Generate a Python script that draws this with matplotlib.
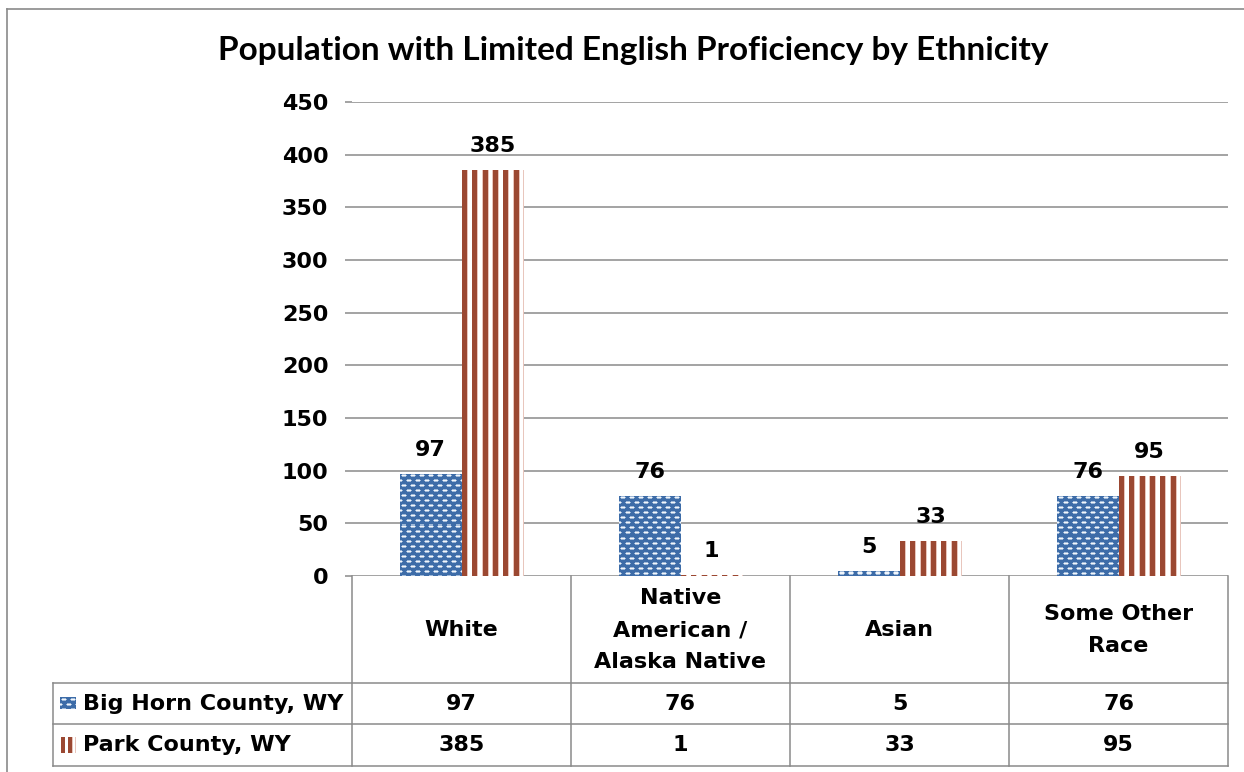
import numpy as np
import matplotlib
matplotlib.use("Agg")
import matplotlib.pyplot as plt
from matplotlib.lines import Line2D
from matplotlib.transforms import blended_transform_factory
from matplotlib.colors import to_rgb

# ---- data ----
title = "Population with Limited English Proficiency by Ethnicity"
categories = ["White", "Native\nAmerican /\nAlaska Native", "Asian", "Some Other\nRace"]
series_names = ["Big Horn County, WY", "Park County, WY"]
big_horn = [97, 76, 5, 76]
park = [385, 1, 33, 95]
y_ticks = [0, 50, 100, 150, 200, 250, 300, 350, 400, 450]

# ---- styling ----
W, H, DPI = 1244, 772, 100
BLUE = to_rgb("#3D6CA8")
DOT_CORE = to_rgb("#F2F6FB")
DOT_EDGE = to_rgb("#9FB9D8")
BROWN = to_rgb("#9B4832")
PINK = to_rgb("#E8C6BD")
WHITE = (1.0, 1.0, 1.0)
GRID = "#8A8A8A"
FS = 16

plt.rcParams["font.family"] = ["DejaVu Sans"]
plt.rcParams["font.weight"] = "bold"

fig = plt.figure(figsize=(W / DPI, H / DPI), dpi=DPI)


def fx(px):
    return px / W


def fy(py):
    return 1 - py / H


def dots(h, w):
    """Blue fill with staggered white dashes."""
    img = np.empty((h, w, 3))
    img[:] = BLUE
    yy, xx = np.mgrid[0:h, 0:w]
    row = yy // 5
    ph = yy % 5
    cc = (xx + 4 * (row % 2)) % 9
    core = ph == 2
    rim = (ph == 1) | (ph == 3)
    img[core & (cc >= 2) & (cc <= 5)] = DOT_CORE
    img[core & ((cc == 1) | (cc == 6))] = DOT_EDGE
    img[rim & (cc >= 2) & (cc <= 5)] = DOT_EDGE
    return img


def stripes(h, w, n=6):
    """Vertical brown stripes on white."""
    img = np.empty((max(h, 1), w, 3))
    f = ((np.arange(w) + 0.5) * n / w) % 1.0
    col = np.empty((w, 3))
    col[:] = WHITE
    col[(f >= 0.48) & (f < 0.58)] = PINK
    col[f >= 0.92] = PINK
    col[f < 0.48] = BROWN
    img[:] = col[None, :, :]
    return img


# ---- chart axes ----
ax = fig.add_axes([fx(352), fy(576), fx(1228) - fx(352), fy(102) - fy(576)])
n = len(categories)
x = np.arange(n)
bw = 62 / 219

bars1 = ax.bar(x - bw / 2, big_horn, bw, color=BLUE, lw=0, zorder=3)
bars2 = ax.bar(x + bw / 2, park, bw, color=WHITE, lw=0, zorder=3)

ax.set_xlim(-0.5, n - 0.5)
ax.set_ylim(0, 450)
fig.canvas.draw()


def texture(bars, maker):
    for b in bars:
        x0, y0 = b.get_x(), b.get_y()
        x1, y1 = x0 + b.get_width(), y0 + b.get_height()
        (p0x, p0y), (p1x, p1y) = ax.transData.transform([(x0, y0), (x1, y1)])
        wpx = max(int(round(p1x - p0x)), 1)
        hpx = max(int(round(p1y - p0y)), 1)
        im = ax.imshow(maker(hpx, wpx), extent=(x0, x1, y0, y1), aspect="auto",
                       interpolation="nearest", zorder=3.5)
        im.set_clip_path(b)


texture(bars1, dots)
texture(bars2, stripes)
ax.set_xlim(-0.5, n - 0.5)
ax.set_ylim(0, 450)

for s in ax.spines.values():
    s.set_visible(False)
ax.set_axisbelow(True)
ax.yaxis.grid(True, color=GRID, lw=1.1)
ax.set_yticks(y_ticks)
ax.set_yticklabels([str(t) for t in y_ticks], fontsize=FS, fontweight="bold")
ax.tick_params(axis="y", length=5, width=1.1, color=GRID, pad=12)
ax.set_xticks([])

# value labels above bars
for bars, vals in ((bars1, big_horn), (bars2, park)):
    for b, v in zip(bars, vals):
        ax.annotate(str(v), (b.get_x() + b.get_width() / 2, v), xytext=(0, 13),
                    textcoords="offset points", ha="center", va="baseline",
                    fontsize=FS, fontweight="bold", zorder=5)

# ---- title ----
fig.text(fx(633), fy(60), title, ha="center", va="baseline",
         fontsize=24, fontweight="bold", family=["Lato", "DejaVu Sans"])

# ---- outer frame ----
fig.add_artist(Line2D([fx(7), 1], [fy(9), fy(9)], color=GRID, lw=1.2))
fig.add_artist(Line2D([fx(7), fx(7)], [fy(9), 0], color=GRID, lw=1.2))

# ---- data table ----
tr = blended_transform_factory(ax.transData, fig.transFigure)
for i in range(n + 1):
    fig.add_artist(Line2D([i - 0.5, i - 0.5], [fy(576), fy(766)], transform=tr,
                          color=GRID, lw=1.1))
fig.add_artist(Line2D([fx(53), fx(53)], [fy(683), fy(766)], color=GRID, lw=1.1))
for py in (683, 724, 766):
    fig.add_artist(Line2D([fx(53), fx(1228)], [fy(py), fy(py)], color=GRID, lw=1.1))

for i, c in enumerate(categories):
    fig.text(i, fy(630), c, transform=tr, ha="center", va="center",
             fontsize=FS, fontweight="bold", linespacing=1.76, multialignment="center")

row_y = [703.5, 745]
for vals, ry in zip((big_horn, park), row_y):
    for i, v in enumerate(vals):
        fig.text(i, fy(ry), str(v), transform=tr, ha="center", va="center",
                 fontsize=FS, fontweight="bold")

for name, ry in zip(series_names, row_y):
    fig.text(fx(83), fy(ry), name, ha="left", va="center", fontsize=FS, fontweight="bold")

# legend keys in the table rows
fig.figimage(dots(12, 16), xo=60, yo=H - 709, zorder=5)
fig.figimage(stripes(16, 15, n=2), xo=61, yo=H - 753, zorder=5)

fig.savefig("out.png", dpi=DPI)
